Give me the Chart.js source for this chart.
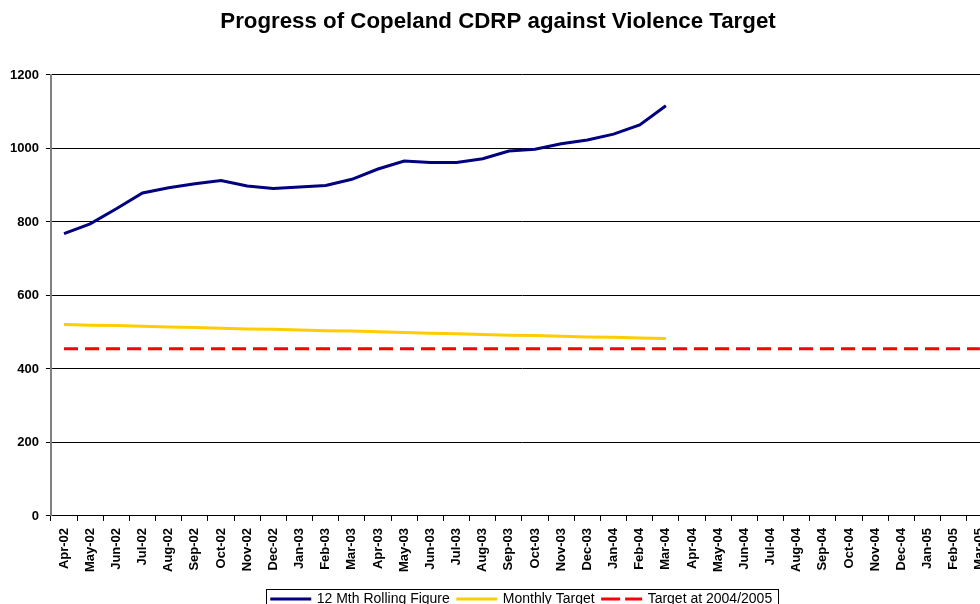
<!DOCTYPE html>
<html>
<head>
<meta charset="utf-8">
<script src="https://cdn.jsdelivr.net/npm/chart.js@4/dist/chart.umd.min.js"></script>
<style>
  html, body { margin: 0; padding: 0; background: #fff; overflow: hidden; }
</style>
</head>
<body>
<canvas id="myChart" width="1010" height="620"></canvas>
<script>
const months = ['Apr-02','May-02','Jun-02','Jul-02','Aug-02','Sep-02','Oct-02','Nov-02','Dec-02','Jan-03','Feb-03','Mar-03',
  'Apr-03','May-03','Jun-03','Jul-03','Aug-03','Sep-03','Oct-03','Nov-03','Dec-03','Jan-04','Feb-04','Mar-04',
  'Apr-04','May-04','Jun-04','Jul-04','Aug-04','Sep-04','Oct-04','Nov-04','Dec-04','Jan-05','Feb-05','Mar-05'];

const rolling = [768, 795, 836, 879, 893, 904, 913, 898, 891, 895, 899, 916,
  944, 966, 962, 962, 972, 993, 998, 1013, 1023, 1039, 1064, 1116];

const monthlyTarget = [521, 519, 518, 516, 514, 513, 511, 509, 508, 506, 504, 503,
  501, 499, 497, 496, 494, 492, 491, 489, 487, 486, 484, 483];

const target0405 = [455, 455, 455, 455, 455, 455, 455, 455, 455, 455, 455, 455,
  455, 455, 455, 455, 455, 455, 455, 455, 455, 455, 455, 455,
  455, 455, 455, 455, 455, 455, 455, 455, 455, 455, 455, 455];

const yTicks = [0, 200, 400, 600, 800, 1000, 1200];

const font = 'Liberation Sans, Arial, sans-serif';

// legend has no border of its own, so draw one round the items
const legendBorder = {
  id: 'legendBorder',
  afterDraw(chart) {
    const lg = chart.legend;
    if (!lg || !lg.legendHitBoxes.length) return;
    const boxes = lg.legendHitBoxes;
    const last = boxes[boxes.length - 1];
    const left = boxes[0].left - 6;
    const right = last.left + last.width + 6;
    const top = boxes[0].top - 3;
    const ctx = chart.ctx;
    ctx.save();
    ctx.strokeStyle = '#000';
    ctx.lineWidth = 1;
    ctx.strokeRect(Math.round(left) + 0.5, Math.round(top) + 0.5, Math.round(right - left), 40);
    ctx.restore();
  }
};

const config = {
  type: 'line',
  data: {
    labels: months,
    datasets: [{
      label: '12 Mth Rolling Figure',
      data: rolling,
      borderColor: '#000080',
      backgroundColor: '#000080',
      borderWidth: 3,
      pointRadius: 0,
      tension: 0
    },
    {
      label: 'Monthly Target',
      data: monthlyTarget,
      borderColor: '#ffcc00',
      backgroundColor: '#ffcc00',
      borderWidth: 3,
      pointRadius: 0,
      tension: 0
    },
    {
      label: 'Target at 2004/2005',
      data: target0405,
      borderColor: '#ff0000',
      backgroundColor: '#ff0000',
      borderWidth: 3,
      borderDash: [14, 7],
      pointRadius: 0,
      tension: 0
    }]
  },
  options: {
    responsive: false,
    animation: false,
    layout: { padding: { left: 3, right: 17, top: 6, bottom: 4 } },
    plugins: {
      title: {
        display: true,
        text: 'Progress of Copeland CDRP against Violence Target',
        color: '#000',
        font: { family: font, size: 22.3, weight: 'bold' },
        padding: { top: 2, bottom: 40.2 }
      },
      legend: {
        position: 'bottom',
        fullSize: false,
        labels: {
          color: '#000',
          font: { family: font, size: 14 },
          usePointStyle: true,
          pointStyle: 'line',
          pointStyleWidth: 38,
          boxHeight: 14,
          padding: 8,
          generateLabels(chart) {
            const items = Chart.defaults.plugins.legend.labels.generateLabels(chart);
            items.forEach(it => {
              const ds = chart.data.datasets[it.datasetIndex];
              it.lineDash = ds.borderDash ? [16, 8] : [];
              it.lineWidth = 3;
              it.lineCap = 'square';
              it.strokeStyle = ds.borderColor;
            });
            return items;
          }
        }
      },
      tooltip: { enabled: false }
    },
    scales: {
      x: {
        offset: true,
        grid: {
          offset: true,
          drawOnChartArea: false,
          drawTicks: true,
          tickLength: 5,
          color: '#000'
        },
        border: { color: '#000', width: 1 },
        ticks: {
          color: '#000',
          autoSkip: false,
          maxRotation: 90,
          minRotation: 90,
          padding: 7,
          font: { family: font, size: 13, weight: 'bold' }
        },
        afterFit(scale) {
          scale.height += 5;
          scale.paddingLeft = 0;
          scale.paddingRight = 0;
        }
      },
      y: {
        min: 0,
        max: 1200,
        afterBuildTicks(scale) { scale.ticks = yTicks.map(v => ({ value: v })); },
        ticks: {
          color: '#000',
          padding: 7,
          callback: v => String(v),
          font: { family: font, size: 13, weight: 'bold' }
        },
        grid: { color: '#000', tickLength: 5 },
        border: { color: '#808080', width: 2 }
      }
    }
  },
  plugins: [legendBorder]
};

var myChart = new Chart(document.getElementById('myChart'), config);
</script>
</body>
</html>
